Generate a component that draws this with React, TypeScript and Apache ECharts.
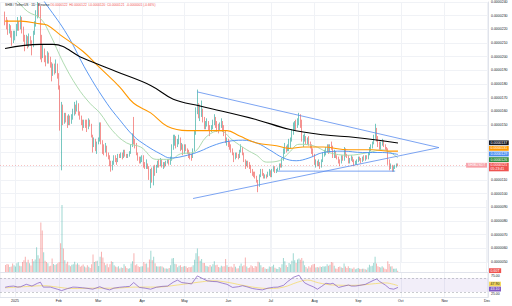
import React, { useEffect, useRef } from "react";
import * as echarts from "echarts";

const JAN1 = Date.UTC(2025, 0, 1);
const DAY = 86400000;
const FIRST_DAY = -7; // first candle: 2024-12-25
const FIRST_OPEN = 22.9; // prices in units of 1e-6 USDT
const MONTHS = ["Jan", "Feb", "Mar", "Apr", "May", "Jun", "Jul", "Aug", "Sep", "Oct", "Nov", "Dec"];

const closes = [
  22.6, 22.4, 21.9, 22.1, 21.6, 21.2, 21.4,
  21.7, 22.1, 22.4, 22.2, 22.6, 22.0, 21.4,
  21.0, 21.3, 20.9, 21.4, 21.1, 20.8, 21.7,
  22.4, 23.1, 23.6, 23.4,
  20.6, 20.3,
  20.4, 19.9, 19.7, 20.1, 19.8, 19.5,
  18.8, 19.2, 19.0, 19.3, 18.6,
  17.8, 15.6, 16.2,
  15.3, 15.7, 15.4, 15.1, 15.6, 15.2, 15.6,
  15.9, 16.3, 16.1, 16.5, 15.9, 15.6, 15.2,
  14.9, 15.2, 15.0, 14.8, 15.3, 15.0, 14.2,
  13.5, 13.9, 13.3, 13.7,
  13.9, 15.0,
  13.8, 13.5, 13.2, 13.4, 12.9, 12.7, 12.2,
  11.8, 12.3, 12.6, 12.5, 12.3, 12.8, 12.7,
  12.9, 12.6, 13.1, 12.8, 12.7, 12.8, 13.0,
  13.5, 14.2, 13.7, 13.6,
  12.9, 12.6, 12.4, 12.5,
  12.7, 12.1, 12.0, 12.2, 11.9, 11.2, 11.5,
  11.0, 11.8,
  11.6, 12.0, 12.3, 12.1, 12.4, 12.0, 12.2,
  12.1, 12.3, 12.4, 12.2, 12.5,
  13.4, 13.9, 14.1, 13.6, 13.8, 14.0,
  13.3, 13.5, 13.0,
  13.4, 13.2, 13.1, 12.9, 12.8, 12.7, 13.2,
  14.5, 16.0, 16.3, 15.8, 15.9, 16.1, 15.5,
  14.9, 15.1, 15.2, 14.8, 14.6, 14.8, 15.2,
  15.3, 15.1, 14.9, 14.7, 15.0, 15.2, 14.7,
  14.5, 13.8, 13.9,
  13.6, 13.4, 13.2, 12.9, 12.6, 12.9, 12.8,
  12.7, 13.1, 13.3, 12.9, 12.4, 12.1, 12.3,
  12.1, 12.0, 11.6, 11.5, 11.4, 11.2, 10.9,
  10.6, 11.3, 11.6, 11.5, 11.2, 11.3, 11.2,
  11.5, 11.6, 11.3, 11.7, 11.9, 11.6, 11.7,
  11.8, 12.1, 12.0, 12.5, 13.1, 13.4, 13.2,
  13.5, 13.6, 13.9, 14.5, 14.8, 15.0, 14.9,
  15.3, 15.6, 15.1, 13.9,
  14.1, 14.2, 13.8, 13.9, 13.6, 13.5, 13.1, 12.8,
  12.2, 12.3, 12.1, 12.2, 12.0, 12.4, 12.9,
  12.9, 13.2, 13.3, 13.2, 13.5, 13.4, 12.8,
  13.0, 12.7, 12.6, 12.4, 12.3, 12.7, 12.5,
  13.2, 12.8, 12.7, 12.3, 12.5, 12.6, 12.4,
  12.2, 12.3, 12.4, 12.6, 12.5, 12.4, 12.6,
  12.5, 12.7, 12.6, 12.9, 13.3, 13.4, 13.7,
  14.1, 14.6, 14.0, 13.6, 13.3, 13.6, 13.8,
  13.5, 13.3, 13.2,
  12.4, 11.9, 12.0, 11.7, 11.9, 12.0, 12.15, 12.07,
];

const highs = [
  23.3, 22.9, 22.7, 22.4, 22.3, 21.9, 21.9,
  21.9, 22.4, 22.9, 22.6, 23.0, 22.9, 22.2,
  21.6, 21.6, 21.5, 21.7, 21.5, 21.2, 21.9,
  22.6, 23.4, 24.0, 23.9,
  23.7, 21.6,
  20.9, 20.6, 20.1, 20.4, 20.3, 20.0,
  19.6, 19.5, 19.5, 19.8, 19.5,
  18.8, 17.9, 16.7,
  16.5, 15.9, 15.9, 15.7, 15.8, 15.7, 15.8,
  16.2, 16.7, 16.5, 16.8, 16.6, 16.0, 15.7,
  15.4, 15.4, 15.4, 15.4, 15.5, 15.4, 15.1,
  14.3, 14.1, 14.0, 13.8,
  14.1, 15.2,
  15.2, 13.9, 13.6, 13.7, 13.5, 13.0, 12.8,
  12.4, 12.4, 12.8, 12.8, 12.6, 12.9, 12.9,
  13.0, 13.0, 13.2, 13.2, 12.9, 12.9, 13.1,
  13.6, 14.4, 15.6, 14.0,
  13.7, 13.0, 12.7, 12.7,
  12.8, 12.8, 12.3, 12.5, 12.2, 12.0, 11.8,
  11.9, 12.0,
  12.1, 12.1, 12.4, 12.5, 12.6, 12.5, 12.3,
  12.3, 12.4, 12.5, 12.5, 12.7,
  13.6, 14.3, 14.3, 14.2, 14.0, 14.3,
  14.1, 13.7, 13.6,
  13.6, 13.6, 13.3, 13.2, 13.0, 12.9, 13.3,
  14.6, 16.3, 17.6, 16.6, 16.5, 16.8, 16.2,
  15.6, 15.3, 15.5, 15.3, 15.0, 15.0, 15.4,
  15.8, 15.6, 15.3, 15.1, 15.2, 15.5, 15.3,
  15.0, 14.6, 14.1,
  14.0, 13.8, 13.6, 13.3, 13.0, 13.0, 13.0,
  12.9, 13.2, 13.6, 13.4, 13.0, 12.5, 12.4,
  12.4, 12.3, 12.1, 11.8, 11.6, 11.6, 11.3,
  11.0, 11.4, 11.8, 11.8, 11.5, 11.4, 11.4,
  11.6, 11.8, 11.7, 11.8, 12.0, 12.0, 11.8,
  11.9, 12.2, 12.2, 12.6, 13.3, 13.7, 13.5,
  13.6, 14.0, 14.1, 14.7, 15.2, 15.3, 15.4,
  15.5, 15.9, 15.8, 15.4,
  14.3, 14.4, 14.2, 14.1, 14.2, 13.8, 13.6, 13.3,
  12.9, 12.5, 12.4, 12.5, 12.3, 12.5, 13.0,
  13.2, 13.4, 13.6, 13.6, 13.6, 13.8, 13.5,
  13.2, 13.1, 12.8, 12.7, 12.5, 12.8, 12.8,
  13.4, 13.3, 12.9, 12.8, 12.6, 12.8, 12.7,
  12.5, 12.4, 12.5, 12.7, 12.7, 12.6, 12.7,
  12.8, 12.8, 12.8, 13.0, 13.4, 13.6, 13.8,
  14.3, 15.1, 14.8, 14.2, 13.8, 13.8, 14.0,
  13.9, 13.6, 13.4,
  13.3, 12.5, 12.2, 12.1, 12.0, 12.1, 12.2, 12.2,
];

const lows = [
  22.3, 22.0, 21.6, 21.7, 21.4, 20.8, 21.0,
  21.2, 21.5, 21.9, 21.9, 22.0, 21.7, 21.1,
  20.4, 20.8, 20.6, 20.7, 20.8, 20.1, 20.7,
  21.6, 22.2, 22.8, 22.9,
  19.8, 19.6,
  19.9, 19.6, 19.3, 19.5, 19.5, 19.2,
  18.2, 18.6, 18.7, 18.8, 18.4,
  17.6, 14.6, 11.7,
  15.0, 15.1, 15.2, 14.8, 15.0, 15.0, 15.1,
  15.4, 15.7, 15.8, 16.0, 15.7, 15.4, 15.0,
  14.6, 14.8, 14.8, 14.5, 14.7, 14.9, 14.1,
  13.0, 13.4, 13.1, 12.9,
  13.6, 13.8,
  13.6, 12.9, 12.8, 13.0, 12.7, 12.5, 12.0,
  11.6, 11.7, 12.1, 12.3, 12.1, 12.3, 12.6,
  12.6, 12.5, 12.6, 12.7, 12.6, 12.6, 12.7,
  12.9, 13.4, 13.6, 13.3,
  12.8, 12.4, 12.2, 12.2,
  12.3, 11.9, 11.8, 11.8, 11.8, 11.0, 10.4,
  10.8, 10.6,
  11.3, 11.5, 11.9, 11.9, 12.0, 11.9, 11.8,
  11.9, 12.0, 12.2, 12.1, 12.1,
  12.4, 13.2, 13.5, 13.3, 13.4, 13.6,
  13.1, 13.2, 12.8,
  12.9, 13.1, 12.9, 12.6, 12.5, 12.4, 12.6,
  13.1, 14.3, 15.8, 15.5, 15.3, 15.6, 15.2,
  14.7, 14.7, 14.9, 14.6, 14.2, 14.5, 14.7,
  15.0, 14.8, 14.5, 14.4, 14.6, 14.8, 14.5,
  14.2, 13.7, 13.5,
  13.4, 13.2, 13.0, 12.8, 12.3, 12.5, 12.6,
  12.5, 12.6, 13.0, 12.8, 12.3, 11.8, 12.0,
  11.9, 11.8, 11.5, 11.3, 11.2, 11.1, 10.8,
  10.1, 10.5, 11.2, 11.3, 11.1, 11.1, 11.1,
  11.2, 11.3, 11.2, 11.2, 11.6, 11.5, 11.5,
  11.6, 11.7, 11.9, 11.9, 12.4, 12.9, 13.0,
  13.1, 13.1, 13.3, 13.8, 14.3, 14.6, 14.6,
  14.8, 15.0, 14.8, 13.8,
  13.4, 13.8, 13.6, 13.6, 13.5, 13.3, 12.9, 12.7,
  12.1, 11.9, 12.0, 12.0, 11.8, 11.9, 12.3,
  12.7, 12.8, 13.0, 12.9, 13.0, 13.2, 12.6,
  12.6, 12.6, 12.5, 12.2, 12.0, 12.2, 12.4,
  12.4, 12.7, 12.6, 12.2, 12.2, 12.4, 12.3,
  12.0, 12.1, 12.1, 12.3, 12.4, 12.2, 12.3,
  12.4, 12.4, 12.5, 12.5, 12.8, 13.1, 13.3,
  13.6, 14.0, 13.8, 13.4, 13.2, 13.2, 13.5,
  13.4, 13.2, 13.1,
  12.1, 11.7, 11.8, 11.6, 11.6, 11.8, 11.9, 12.0,
];

// daily volume, trillions of SHIB
const volumes = [
  3.1, 3.6, 3.3, 2.2, 2.4, 3.8, 3.0,
  2.5, 3.9, 4.3, 2.8, 2.6, 4.5, 5.2,
  6.8, 4.2, 5.5, 3.9, 2.9, 5.8, 4.8,
  5.6, 11.0, 7.4, 6.0,
  22.0, 18.5,
  8.8, 5.0, 4.4, 3.9, 2.6, 2.8,
  6.0, 3.6, 3.1, 3.5, 3.9,
  4.5, 12.8, 29.8,
  10.4, 5.2, 3.8, 4.6, 3.0, 2.6, 3.2,
  3.4, 4.6, 3.3, 3.9, 3.2, 2.3, 2.8,
  3.3, 2.4, 2.0, 3.0, 2.3, 1.8, 3.4,
  7.8, 4.4, 4.8, 5.0,
  2.7, 6.8,
  9.0, 6.5, 4.1, 3.0, 3.7, 2.1, 3.4,
  4.8, 4.4, 3.0, 2.5, 2.1, 2.6, 1.6,
  2.0, 1.8, 3.4, 2.6, 1.8, 1.4, 1.7,
  3.8, 4.8, 8.3, 3.0,
  3.4, 2.6, 2.2, 2.5,
  2.6, 4.4, 3.7, 3.8, 2.0, 5.6, 9.5,
  5.2, 6.8,
  3.9, 2.6, 2.4, 2.5, 2.6, 2.4, 2.0,
  1.6, 1.6, 1.4, 1.8, 3.0,
  6.0, 6.2, 3.7, 3.4, 2.1, 2.8,
  3.0, 2.2, 2.5,
  2.7, 2.4, 1.8, 2.2, 2.1, 2.3, 3.0,
  5.5, 8.3, 10.5, 7.0, 5.0, 5.8, 4.0,
  4.0, 2.8, 2.6, 2.3, 3.1, 2.5, 3.4,
  4.8, 3.0, 3.2, 2.2, 2.0, 2.8, 2.4,
  2.6, 5.8, 3.0,
  2.2, 2.3, 2.5, 2.0, 3.6, 2.3, 1.6,
  1.7, 2.8, 3.8, 2.6, 3.0, 6.5, 2.4,
  1.8, 2.0, 3.0, 2.6, 1.8, 2.7, 2.4,
  4.6, 4.2, 3.0, 2.0, 2.2, 1.6, 1.3,
  1.5, 2.4, 2.2, 2.6, 3.2, 1.9, 1.4,
  1.3, 2.2, 1.9, 3.5, 6.2, 4.8, 3.0,
  2.2, 4.0, 3.4, 5.0, 8.3, 5.2, 4.0,
  5.6, 6.0, 5.4, 6.2,
  5.0, 3.0, 2.2, 1.6, 2.6, 2.0, 3.0, 3.4,
  3.6, 2.0, 2.2, 2.0, 2.4, 2.2, 2.6,
  2.4, 2.6, 3.4, 2.8, 3.2, 4.4, 4.2,
  2.8, 1.6, 1.4, 2.2, 2.4, 2.0, 1.8,
  3.8, 2.4, 1.8, 2.6, 1.8, 1.6, 1.5,
  2.0, 1.2, 1.5, 1.8, 1.4, 1.3, 1.4,
  1.5, 1.2, 1.0, 2.0, 3.2, 2.6, 2.8,
  4.0, 6.8, 3.8, 2.6, 2.2, 2.0, 2.6,
  2.0, 1.4, 1.2,
  4.8, 3.6, 2.4, 2.6, 1.5, 1.4, 1.6, 0.6,
];

// moving averages: [day offset from 2025-01-01, value]
const ma20 = [[-7, 24.6], [0, 24.2], [9, 23.3], [18, 22.8], [25, 21.6], [34, 19.6], [44, 17.8], [53, 16.6], [60, 15.9], [69, 14.6], [79, 13.7], [89, 13.4], [100, 12.5], [110, 12.5], [117, 12.9], [126, 13.0], [136, 14.2], [145, 14.6], [154, 13.9], [164, 13.2], [171, 12.8], [178, 12.3], [187, 12.4], [194, 13.0], [201, 13.6], [211, 13.5], [222, 13.0], [236, 12.8], [250, 13.0], [260, 13.2], [271, 12.6]];
const ma50 = [[-7, 27.0], [10, 25.5], [23, 23.7], [37, 21.6], [51, 18.9], [65, 16.6], [74, 15.4], [84, 14.2], [93, 13.5], [103, 12.9], [110, 12.6], [122, 12.8], [131, 13.1], [140, 13.5], [150, 13.8], [161, 13.9], [171, 13.7], [180, 13.2], [190, 12.6], [199, 12.4], [208, 12.6], [218, 13.0], [232, 13.1], [246, 13.0], [260, 13.0], [271, 12.86]];
const ma100 = [[-7, 22.6], [4, 22.6], [18, 22.4], [23, 22.3], [32, 21.6], [48, 20.4], [60, 19.2], [74, 17.8], [84, 16.6], [96, 15.9], [108, 14.9], [122, 14.6], [131, 14.6], [140, 14.6], [150, 14.6], [159, 14.2], [171, 13.7], [185, 13.5], [194, 13.3], [204, 13.4], [218, 13.4], [236, 13.2], [253, 13.2], [265, 13.1], [271, 13.1]];
const ma200 = [[-7, 20.6], [18, 20.9], [27, 20.9], [48, 19.9], [72, 18.9], [96, 17.9], [112, 16.9], [131, 16.4], [171, 15.4], [194, 14.7], [218, 14.3], [241, 14.1], [271, 13.7]];

// drawn trend lines: [day, price]
const upperTrend = [[129, 17.43], [300, 13.36]];
const lowerTrend = [[126, 9.64], [300, 13.36]];
const supportLine = [[186, 11.64], [269, 11.64]];

// RSI(14) and its moving average: [day, value]
const rsi = [[-7, 43.5], [-4, 46], [-1, 47], [2, 44], [4, 45], [8, 52], [12, 47], [16, 55], [18, 58], [20, 44], [25, 44], [30, 38], [33, 34], [37, 39.5], [41, 44], [44, 43.5], [48, 42], [51, 40.5], [55, 38], [60, 45], [63, 40], [67, 36], [70, 41], [74, 43.5], [78, 45], [81, 46], [84, 57], [88, 43], [92, 41], [96, 38], [100, 43.5], [104, 46], [108, 47], [112, 58], [115, 64], [118, 57], [122, 55], [125, 53], [129, 76], [132, 70], [136, 62], [140, 60], [143, 59.5], [147, 55], [150, 52], [154, 43], [158, 45], [161, 48], [164, 45], [168, 40], [171, 38], [175, 36], [179, 41], [183, 43.5], [186, 44], [190, 49], [193, 60], [197, 72], [201, 78], [203, 66], [205, 56], [208, 50], [211, 45], [214, 38], [217, 46], [220, 55], [223, 53], [225, 55], [229, 43], [232, 46], [236, 50], [238, 47], [241, 47], [244, 49], [248, 52], [251, 58], [254, 64], [256, 67], [258, 60], [260, 55], [262, 50], [265, 40], [268, 38], [271, 43.1]];
const rsiMa = [[-7, 42], [10, 46], [20, 48], [30, 44], [40, 40], [55, 41], [70, 41], [85, 44], [100, 44], [115, 50], [130, 58], [140, 62], [150, 58], [160, 50], [170, 43], [180, 40], [190, 44], [200, 58], [207, 64], [215, 56], [225, 50], [240, 49], [255, 54], [262, 56], [271, 47.9]];
const rsiTicks = [25, 75];

const UP = "#26a69a";
const DOWN = "#ef5350";
const FONT = "Liberation Sans, Arial, sans-serif";

const t = (d: number) => JAN1 + d * DAY;
const toXY = (arr: number[][]) => arr.map(([d, v]) => [t(d), v]);
const fmtPrice = (v: number) => (v / 1e6).toFixed(7);

export default function App() {
  const ref = useRef<HTMLDivElement>(null);
  useEffect(() => {
    const chart = echarts.init(ref.current!, undefined, { renderer: "svg" });
    const opens = closes.map((c, i) => (i === 0 ? FIRST_OPEN : closes[i - 1]));
    const candles = closes.map((c, i) => [t(FIRST_DAY + i), opens[i], c, lows[i], highs[i]]);
    const vols = volumes.map((v, i) => ({
      value: [t(FIRST_DAY + i), v],
      itemStyle: { color: closes[i] >= opens[i] ? "rgba(38,166,154,0.45)" : "rgba(239,83,80,0.45)" },
    }));
    const last = closes[closes.length - 1];
    const lastUp = last >= opens[opens.length - 1];

    const xBase: any = {
      type: "time",
      min: t(-10.6),
      max: t(334.7),
      splitNumber: 12,
      minInterval: 28 * DAY,
      maxInterval: 31 * DAY,
      axisTick: { show: false },
      axisLine: { show: false },
      axisLabel: { show: false },
      splitLine: { show: true, lineStyle: { color: "#f0f2f6", width: 1 } },
    };
    const lineS = (data: number[][], color: string, width = 1, smooth: any = 0.4) => ({
      type: "line",
      xAxisIndex: 0,
      yAxisIndex: 0,
      data: toXY(data),
      showSymbol: false,
      symbol: "none",
      smooth,
      silent: true,
      lineStyle: { color, width },
      z: 3,
    });
    const priceAxis = (formatter: (v: number) => string) => ({
      gridIndex: 0,
      type: "value",
      position: "right",
      min: 5,
      max: 24,
      interval: 1,
      axisLine: { show: true, lineStyle: { color: "#e0e3eb", width: 1 } },
      axisTick: { show: false },
      axisLabel: { fontSize: 3.5, color: "#131722", margin: 3, fontFamily: FONT, formatter },
      splitLine: { show: true, lineStyle: { color: "#f0f2f6", width: 1 } },
    });
    const otherAxes: any[] = [
      {
        gridIndex: 1,
        type: "value",
        position: "right",
        min: 0,
        max: 32,
        axisLine: { show: true, lineStyle: { color: "#e0e3eb", width: 1 } },
        axisTick: { show: false },
        axisLabel: { show: false },
        splitLine: { show: false },
      },
      {
        gridIndex: 2,
        type: "value",
        position: "right",
        min: 15.71,
        max: 84.29,
        axisLine: { show: true, lineStyle: { color: "#e0e3eb", width: 1 } },
        axisTick: { show: false },
        axisLabel: {
          fontSize: 3.5,
          color: "#131722",
          margin: 3,
          fontFamily: FONT,
          customValues: rsiTicks,
          formatter: (v: number) => v.toFixed(2),
        },
        splitLine: { show: false },
      },
    ];

    const option: any = {
      animation: false,
      useUTC: true,
      backgroundColor: "#ffffff",
      textStyle: { fontFamily: FONT },
      grid: [
        { left: 0, top: -4, width: 488, height: 266 },
        { left: 0, top: 200, width: 488, height: 72 },
        { left: 0, top: 273, width: 488, height: 24 },
      ],
      xAxis: [
        { ...xBase, gridIndex: 0 },
        { ...xBase, gridIndex: 1, axisLine: { show: true, lineStyle: { color: "#e0e3eb", width: 1 } } },
        {
          ...xBase,
          gridIndex: 2,
          axisLine: { show: true, lineStyle: { color: "#e0e3eb", width: 1 } },
          axisLabel: {
            show: true,
            fontSize: 3.5,
            color: "#131722",
            margin: 2,
            fontFamily: FONT,
            formatter: (v: number) => {
              const d = new Date(v);
              return d.getUTCMonth() === 0 ? String(d.getUTCFullYear()) : MONTHS[d.getUTCMonth()];
            },
          },
        },
      ],
      yAxis: [priceAxis(fmtPrice), ...otherAxes],
      series: [
        {
          type: "candlestick",
          xAxisIndex: 0,
          yAxisIndex: 0,
          data: candles,
          encode: { x: 0, y: [1, 2, 3, 4] },
          barWidth: 1,
          silent: true,
          z: 2,
          itemStyle: { color: UP, color0: DOWN, borderColor: UP, borderColor0: DOWN, borderWidth: 0.7, opacity: 0.9 },
          markLine: {
            silent: true,
            symbol: "none",
            label: { show: false },
            lineStyle: { color: lastUp ? UP : DOWN, type: [1, 2], width: 0.5, opacity: 0.7 },
            data: [{ yAxis: last }],
          },
        },
        lineS(ma20, "#a5d6a7", 0.9),
        lineS(ma50, "#4a8df0", 0.9),
        lineS(ma100, "#ff9800", 1.1),
        lineS(ma200, "#000000", 1.1),
        lineS(upperTrend, "#5b8def", 0.8, false),
        lineS(lowerTrend, "#5b8def", 0.8, false),
        lineS(supportLine, "#5b8def", 0.8, false),
        {
          type: "bar",
          xAxisIndex: 1,
          yAxisIndex: 1,
          data: vols,
          barWidth: 1,
          silent: true,
        },
        {
          type: "line",
          xAxisIndex: 2,
          yAxisIndex: 2,
          data: toXY(rsi),
          showSymbol: false,
          symbol: "none",
          silent: true,
          lineStyle: { color: "#7e57c2", width: 0.7 },
          z: 3,
          markArea: {
            silent: true,
            itemStyle: { color: "rgba(126,87,194,0.1)" },
            data: [[{ yAxis: 30 }, { yAxis: 70 }]],
          },
          markLine: {
            silent: true,
            symbol: "none",
            label: { show: false },
            lineStyle: { color: "#9598a1", type: [2, 2], width: 0.5 },
            data: [{ yAxis: 70 }, { yAxis: 30 }],
          },
        },
        {
          type: "line",
          xAxisIndex: 2,
          yAxisIndex: 2,
          data: toXY(rsiMa),
          showSymbol: false,
          symbol: "none",
          smooth: 0.4,
          silent: true,
          lineStyle: { color: "#f5d85a", width: 0.7 },
          z: 2,
        },
      ],
    };
    chart.setOption(option);

    // right-side value tags, positioned through the axes' scales
    const py = (idx: number, v: number) => chart.convertToPixel({ yAxisIndex: idx } as any, v) as number;
    const lastOf = (a: number[][]) => a[a.length - 1][1];
    type L = { y: number; text: string; bg: string; fg: string; h: number };
    const relax = (ls: L[]) => {
      const s = [...ls].sort((a, b) => a.y - b.y);
      for (let k = 0; k < 60; k++) {
        for (let i = 1; i < s.length; i++) {
          const need = (s[i - 1].h + s[i].h) / 2;
          const gap = s[i].y - s[i - 1].y;
          if (gap < need) {
            const d = (need - gap) / 2 + 0.01;
            s[i - 1].y -= d;
            s[i].y += d;
          }
        }
      }
      return s;
    };
    const priceLabels: L[] = relax([
      { y: py(0, lastOf(ma200)), text: fmtPrice(lastOf(ma200)), bg: "#131722", fg: "#ffffff", h: 5.6 },
      { y: py(0, lastOf(ma100)), text: fmtPrice(lastOf(ma100)), bg: "#ff9800", fg: "#ffffff", h: 5.6 },
      { y: py(0, lastOf(ma50)), text: fmtPrice(lastOf(ma50)), bg: "#4a8df0", fg: "#ffffff", h: 5.6 },
      { y: py(0, lastOf(ma20)), text: fmtPrice(lastOf(ma20)), bg: "#2e8b3e", fg: "#ffffff", h: 5.6 },
      { y: py(0, last), text: fmtPrice(last) + "\n05:23:41", bg: lastUp ? UP : DOWN, fg: "#ffffff", h: 9.2 },
    ]);
    const rsiLabels: L[] = relax([
      { y: py(2, lastOf(rsiMa)), text: lastOf(rsiMa).toFixed(2), bg: "#f5d85a", fg: "#131722", h: 5 },
      { y: py(2, lastOf(rsi)), text: lastOf(rsi).toFixed(2), bg: "#7e57c2", fg: "#ffffff", h: 5 },
    ]);
    // price-scale tick labels that sit under a tag are hidden, as on the reference
    const hidden = new Set<number>();
    for (let v = 5; v <= 24; v++) {
      const y = py(0, v);
      if (priceLabels.some((l) => Math.abs(l.y - y) < l.h / 2 + 2.6)) hidden.add(v);
    }
    const lastVol = volumes[volumes.length - 1];
    const tag = (x: number, l: L, align = "left") => ({
      type: "text",
      x,
      y: l.y,
      z: 100,
      silent: true,
      style: {
        text: l.text,
        fontSize: 3.5,
        lineHeight: 3.8,
        fontFamily: FONT,
        fill: l.fg,
        backgroundColor: l.bg,
        padding: [0.6, 1.6, 0.4, 1.6],
        align,
        verticalAlign: "middle",
      },
    });
    const o = opens[opens.length - 1];
    const graphic: any[] = [
      ...priceLabels.map((l) => tag(489, l)),
      ...rsiLabels.map((l) => tag(489, l)),
      tag(487, { y: py(0, last), text: "SHIBUSDT", bg: "#f7a1a8", fg: "#ffffff", h: 5 }, "right"),
      tag(489, { y: py(1, lastVol), text: lastVol.toFixed(2) + "T", bg: lastUp ? UP : DOWN, fg: "#ffffff", h: 5 }),
      {
        type: "text",
        x: 5,
        y: 5,
        z: 100,
        silent: true,
        style: { text: "SHIB / TetherUS · 1D · Binance", fontSize: 3.2, fontFamily: FONT, fill: "#131722", verticalAlign: "middle" },
      },
      {
        type: "text",
        x: 50,
        y: 5,
        z: 100,
        silent: true,
        style: {
          text:
            "O" + fmtPrice(o) +
            "  H" + fmtPrice(highs[highs.length - 1]) +
            "  L" + fmtPrice(lows[lows.length - 1]) +
            "  C" + fmtPrice(last) +
            "  " + ((last - o) / 1e6).toFixed(7) +
            " (" + (((last - o) / o) * 100).toFixed(2) + "%)",
          fontSize: 3.2,
          fontFamily: FONT,
          fill: lastUp ? UP : DOWN,
          verticalAlign: "middle",
        },
      },
    ];
    chart.setOption({
      yAxis: [priceAxis((v: number) => (hidden.has(Math.round(v)) ? "" : fmtPrice(v))), ...otherAxes],
      graphic,
    });
    return () => chart.dispose();
  }, []);
  return (
    <div
      ref={ref}
      style={{ position: "fixed", left: 0, top: 0, width: 512, height: 306, background: "#ffffff" }}
    />
  );
}
